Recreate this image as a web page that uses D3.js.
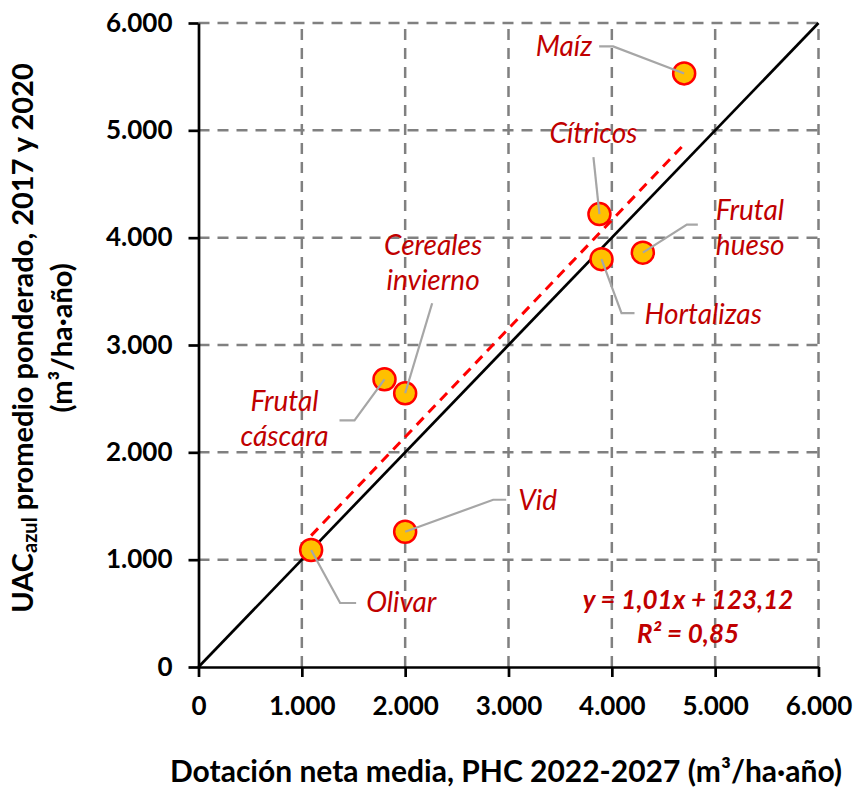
<!DOCTYPE html>
<html>
<head>
<meta charset="utf-8">
<script src="https://cdn.jsdelivr.net/npm/d3@7"></script>
<style>
  body { margin: 0; background: #fff; }
  svg { display: block; }
  text { font-family: Lato, "Open Sans", sans-serif; }
</style>
</head>
<body>
<svg id="chart" width="859" height="790"></svg>
<script>
// Cultivos: dotación neta (PHC 2022-2027) frente a UAC azul promedio 2017-2020
const cultivos = ["Maíz", "Cítricos", "Frutal hueso", "Hortalizas", "Cereales invierno", "Frutal cáscara", "Vid", "Olivar"];
const dotacion = [4700, 3880, 4300, 3900, 2000, 1800, 2000, 1090];
const uacAzul  = [5530, 4220, 3860, 3800, 2550, 2680, 1260, 1090];

const ejeTicks = [0, 1000, 2000, 3000, 4000, 5000, 6000];
const dominio = [0, 6000];

// Recta de regresión mostrada en el gráfico
const pendiente = 1.01;
const ordenada = 123.12;
const r2 = 0.85;

const tituloX = "Dotación neta media, PHC 2022-2027 (m³/ha·año)";

// Colocación de las etiquetas y de sus guías (desplazamientos en px respecto al punto)
const etiquetas = {
  "Maíz":              { lineas: ["Maíz"], anchor: "end", dx: -92, dy: -17, guia: [[-71, -27], [-85, -27]] },
  "Cítricos":          { lineas: ["Cítricos"], anchor: "middle", dx: -6, dy: -71, guia: [[-6, -57]] },
  "Frutal hueso":      { lineas: ["Frutal", "hueso"], anchor: "start", dx: 73, dy: -33, guia: [[44, -28], [55, -28]] },
  "Hortalizas":        { lineas: ["Hortalizas"], anchor: "start", dx: 43, dy: 65, guia: [[20, 54], [33, 54]] },
  "Cereales invierno": { lineas: ["Cereales", "invierno"], anchor: "middle", dx: 28, dy: -138, guia: [[27, -90]] },
  "Frutal cáscara":    { lineas: ["Frutal", "cáscara"], anchor: "middle", dx: -100, dy: 32, guia: [[-30, 41], [-45, 41]] },
  "Vid":               { lineas: ["Vid"], anchor: "start", dx: 113, dy: -22, guia: [[88, -32], [101, -32]] },
  "Olivar":            { lineas: ["Olivar"], anchor: "start", dx: 55, dy: 62, guia: [[29, 53], [45, 53]] }
};

const rojoTexto = "#C00000";
const svg = d3.select("#chart");
const margin = { top: 23, right: 40.5, bottom: 123, left: 198.5 };
const W = 859, H = 790;

const x = d3.scaleLinear().domain(dominio).range([margin.left, W - margin.right]);
const y = d3.scaleLinear().domain(dominio).range([H - margin.bottom, margin.top]);

const es = d3.formatLocale({ decimal: ",", thousands: ".", grouping: [3], currency: ["", " €"] });
const fmt = es.format(",.0f");
const fmt2 = es.format(",.2f");

const datos = cultivos.map((c, i) => ({ cultivo: c, x: dotacion[i], y: uacAzul[i] }));

// Rejilla discontinua
const grid = svg.append("g")
  .attr("stroke", "#808080")
  .attr("stroke-width", 2.5)
  .attr("stroke-dasharray", "11 8");
grid.selectAll("line.v").data(ejeTicks.slice(1)).join("line")
  .attr("class", "v")
  .attr("x1", d => x(d)).attr("x2", d => x(d))
  .attr("y1", y(dominio[0])).attr("y2", y(dominio[1]));
grid.selectAll("line.h").data(ejeTicks.slice(1)).join("line")
  .attr("class", "h")
  .attr("y1", d => y(d)).attr("y2", d => y(d))
  .attr("x1", x(dominio[0])).attr("x2", x(dominio[1]));

// Ejes
const ejeY = svg.append("g")
  .attr("transform", `translate(${x(0)},0)`)
  .call(d3.axisLeft(y).tickValues(ejeTicks).tickFormat(fmt).tickSize(10).tickSizeOuter(0).tickPadding(16));
const ejeXg = svg.append("g")
  .attr("transform", `translate(0,${y(0)})`)
  .call(d3.axisBottom(x).tickValues(ejeTicks).tickFormat(fmt).tickSize(10).tickSizeOuter(0).tickPadding(19.5));
[ejeY, ejeXg].forEach(g => {
  g.select(".domain").attr("stroke", "#000").attr("stroke-width", 2.7);
  g.selectAll(".tick line").attr("stroke", "#000").attr("stroke-width", 2.7);
  g.selectAll(".tick text")
    .attr("fill", "#000")
    .style("font-family", "Lato, sans-serif")
    .style("font-size", "26px")
    .style("font-weight", "bold");
});

// Línea 1:1
svg.append("line")
  .attr("x1", x(dominio[0])).attr("y1", y(dominio[0]))
  .attr("x2", x(dominio[1])).attr("y2", y(dominio[1]))
  .attr("stroke", "#000").attr("stroke-width", 2.7);

// Recta de regresión
const [xmin, xmax] = d3.extent(dotacion);
svg.append("line")
  .attr("x1", x(xmin)).attr("y1", y(pendiente * xmin + ordenada))
  .attr("x2", x(xmax)).attr("y2", y(pendiente * xmax + ordenada))
  .attr("stroke", "#FF0000").attr("stroke-width", 3).attr("stroke-dasharray", "10 7");

// Puntos
svg.append("g").selectAll("circle").data(datos).join("circle")
  .attr("cx", d => x(d.x)).attr("cy", d => y(d.y))
  .attr("r", 11)
  .attr("fill", "#FFC000")
  .attr("stroke", "#FF0000")
  .attr("stroke-width", 2.5);

// Guías de las etiquetas
svg.append("g").selectAll("polyline").data(datos).join("polyline")
  .attr("points", d => {
    const px = x(d.x), py = y(d.y);
    const pts = [[px, py]].concat(etiquetas[d.cultivo].guia.map(([a, b]) => [px + a, py + b]));
    return pts.map(p => p.join(",")).join(" ");
  })
  .attr("fill", "none")
  .attr("stroke", "#A6A6A6")
  .attr("stroke-width", 2.2);

// Etiquetas de cultivo
const lab = svg.append("g").selectAll("text").data(datos).join("text")
  .attr("x", d => x(d.x) + etiquetas[d.cultivo].dx)
  .attr("y", d => y(d.y) + etiquetas[d.cultivo].dy)
  .attr("text-anchor", d => etiquetas[d.cultivo].anchor)
  .attr("fill", rojoTexto)
  .style("font-size", "28px")
  .style("font-style", "italic");
lab.each(function (d) {
  const t = d3.select(this);
  etiquetas[d.cultivo].lineas.forEach((l, i) => {
    t.append("tspan")
      .attr("x", x(d.x) + etiquetas[d.cultivo].dx)
      .attr("dy", i === 0 ? 0 : 35)
      .text(l);
  });
});

// Ecuación y R²
const eq = svg.append("g")
  .attr("fill", rojoTexto)
  .attr("text-anchor", "middle")
  .style("font-size", "26px")
  .style("font-weight", "bold")
  .style("font-style", "italic");
eq.append("text").attr("x", 688).attr("y", 609)
  .text(`y = ${fmt2(pendiente)}x + ${fmt2(ordenada)}`);
eq.append("text").attr("x", 688).attr("y", 643)
  .text(`R² = ${fmt2(r2)}`);

// Título del eje X
svg.append("text")
  .attr("x", 506).attr("y", 782)
  .attr("text-anchor", "middle")
  .style("font-size", "30px").style("font-weight", "bold")
  .text(tituloX);

// Título del eje Y (dos líneas, girado)
const ty = svg.append("g")
  .attr("transform", "translate(0,338) rotate(-90)")
  .attr("text-anchor", "middle")
  .style("font-size", "29px").style("font-weight", "bold");
const l1 = ty.append("text").attr("x", 0).attr("y", 33);
l1.append("tspan").text("UAC");
l1.append("tspan").attr("baseline-shift", "-22%").style("font-size", "20px").text("azul");
l1.append("tspan").text(" promedio ponderado, 2017 y 2020");
ty.append("text").attr("x", 0).attr("y", 72).text("(m³/ha·año)");
</script>
</body>
</html>
